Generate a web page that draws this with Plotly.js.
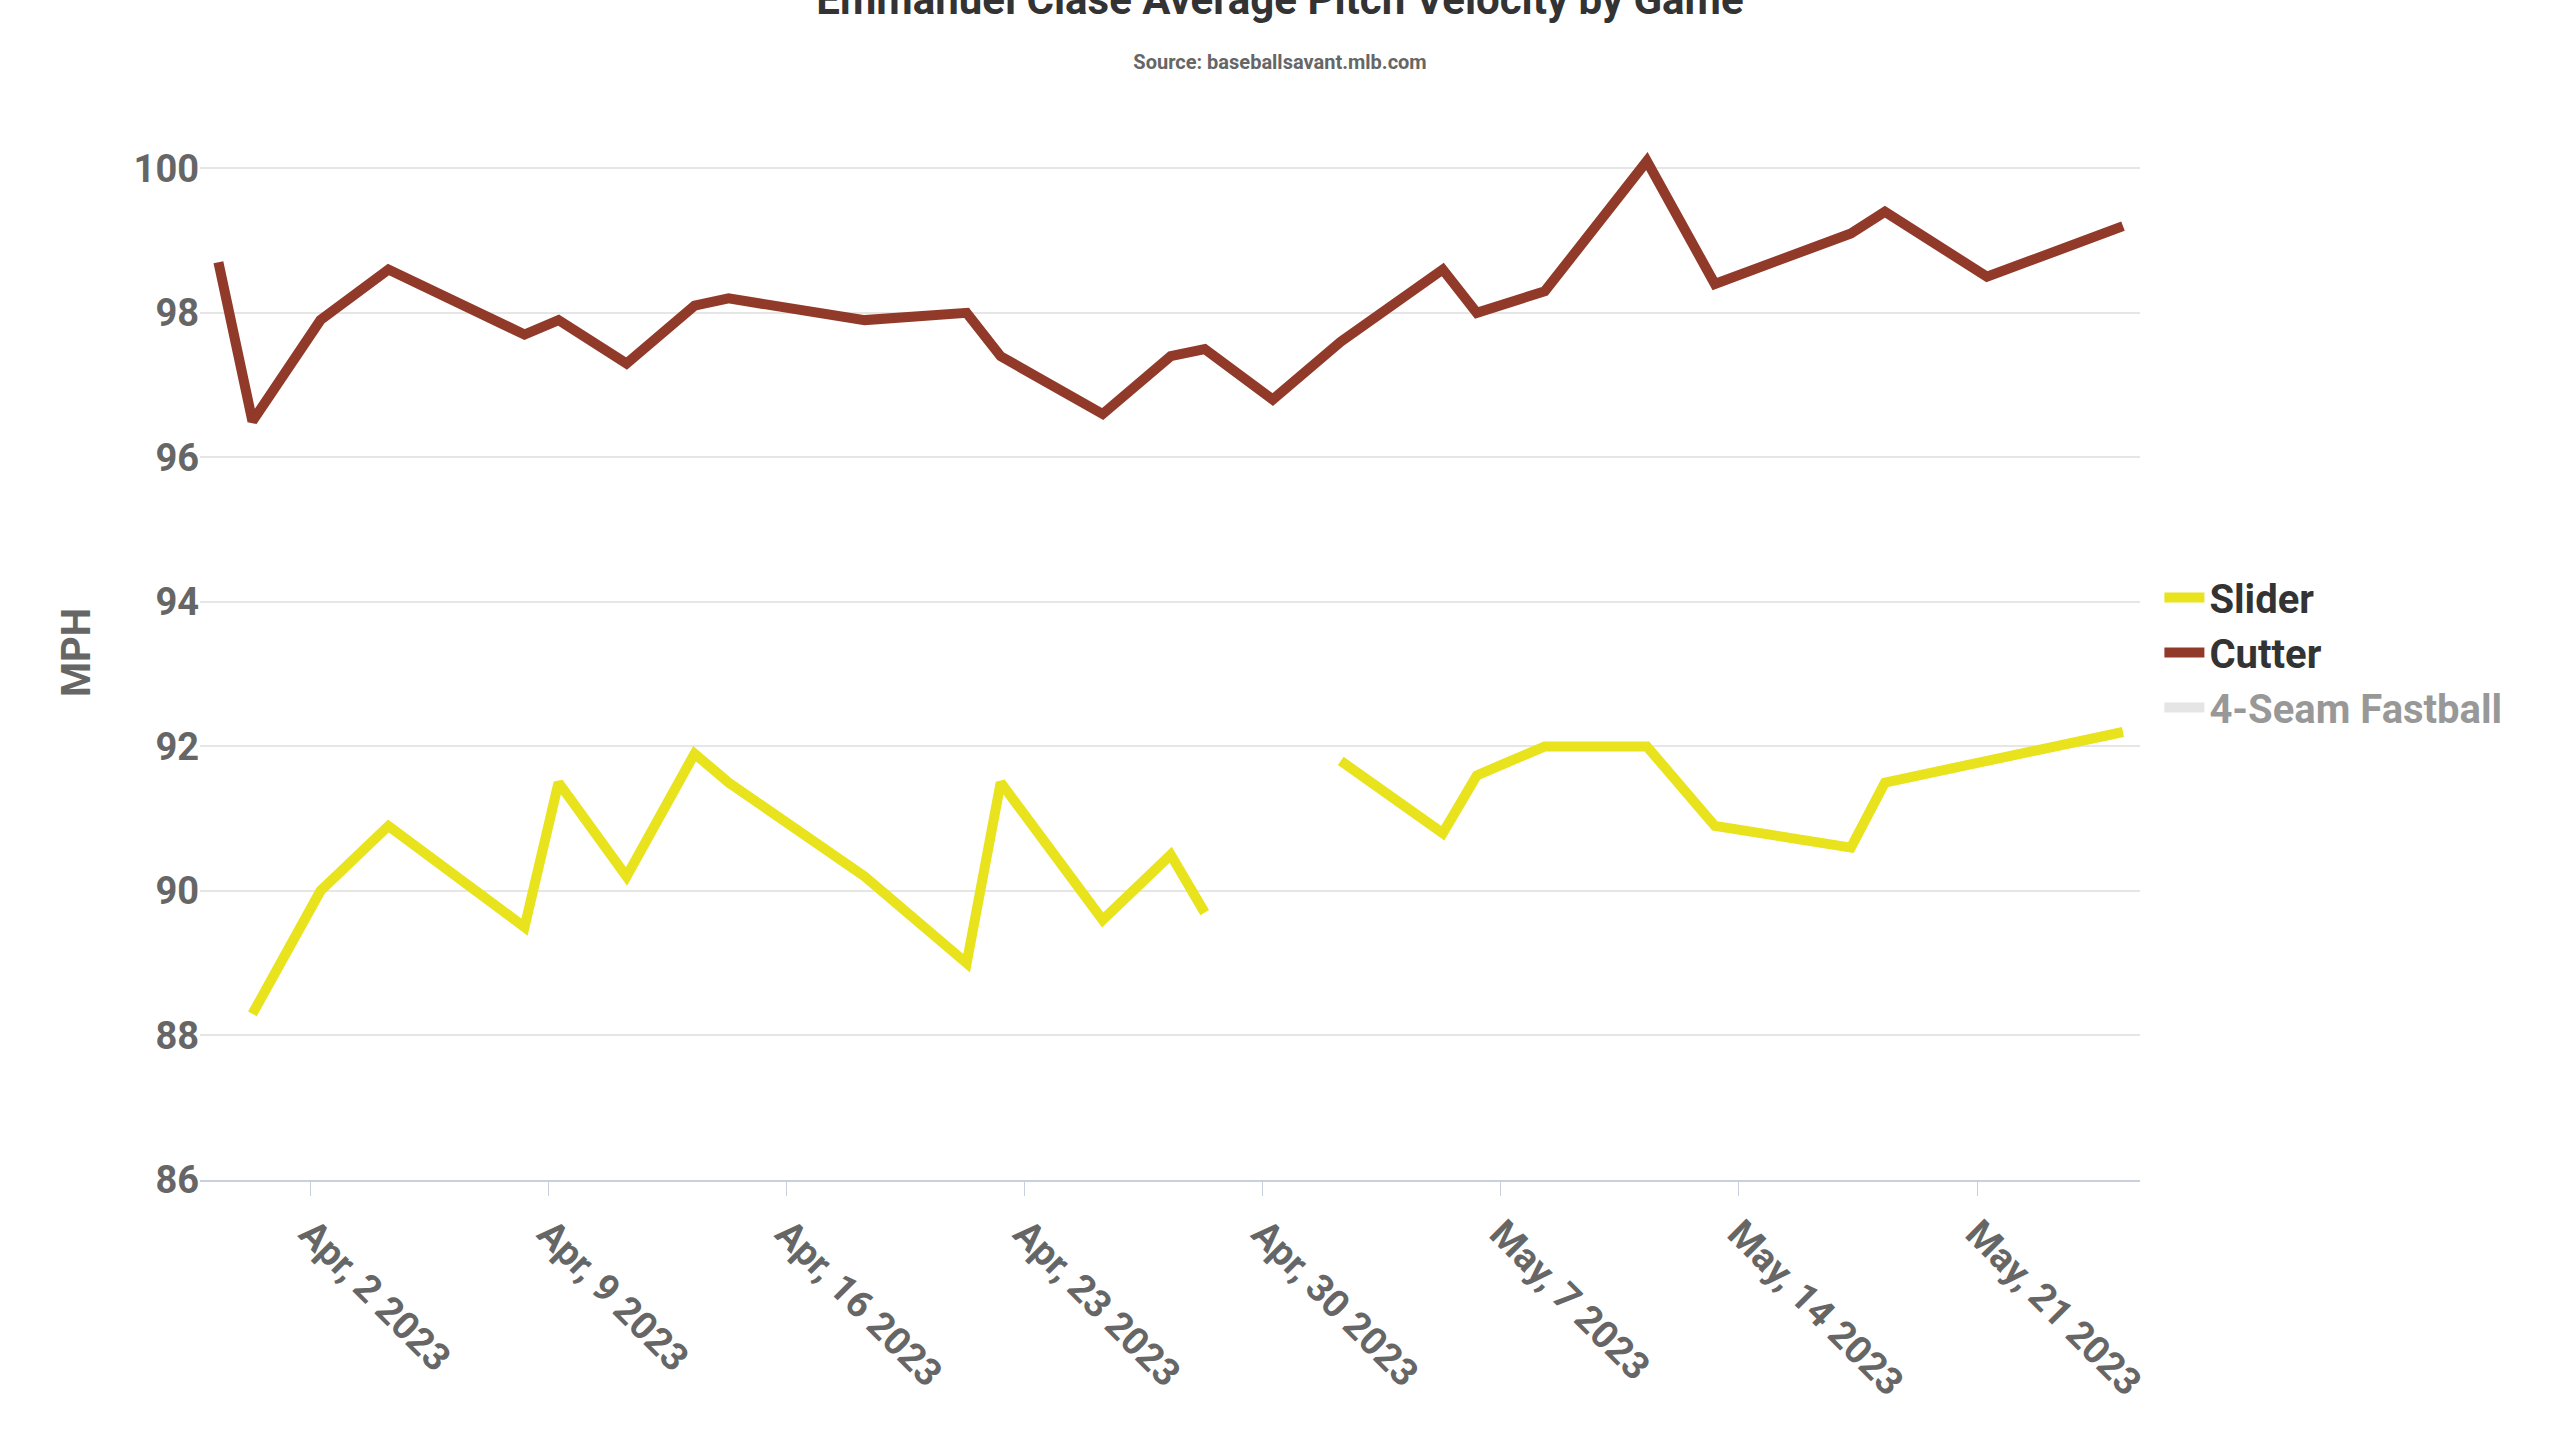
<!DOCTYPE html>
<html><head><meta charset="utf-8">
<script src="https://cdn.plot.ly/plotly-3.0.1.min.js"></script>
<style>body{margin:0}#c{width:2560px;height:1440px}</style></head>
<body><div id="c"></div>
<script>
const dates = ["03-30","03-31","04-02","04-04","04-08","04-09","04-11","04-13","04-14","04-18","04-21","04-22","04-25","04-27","04-28","04-30","05-02","05-05","05-06","05-08","05-11","05-13","05-17","05-18","05-21","05-25"].map(d=>"2023-"+d+" 07:00");
const cutter = [98.7,96.5,97.9,98.6,97.7,97.9,97.3,98.1,98.2,97.9,98.0,97.4,96.6,97.4,97.5,96.8,97.6,98.6,98.0,98.3,100.1,98.4,99.1,99.4,98.5,99.2];
const slider = [null,88.3,90.0,90.9,89.5,91.5,90.2,91.9,91.5,90.2,89.0,91.5,89.6,90.5,89.7,null,91.8,90.8,91.6,92.0,92.0,90.9,90.6,91.5,91.8,92.2];
const fastball = dates.map(()=>null);
const F = "Roboto, sans-serif";
Plotly.newPlot('c', [
 {x:dates,y:slider,name:'<b>Slider</b>',mode:'lines',line:{color:'#e8e31c',width:10},connectgaps:false},
 {x:dates,y:cutter,name:'<b>Cutter</b>',mode:'lines',line:{color:'#923a2a',width:10}},
 {x:dates,y:fastball,name:'<b>4-Seam Fastball</b>',mode:'lines',line:{color:'#cccccc',width:10},visible:'legendonly'}
],{
 width:2560,height:1440,paper_bgcolor:'#fff',plot_bgcolor:'#fff',
 margin:{l:200,r:420,t:125,b:260},
 font:{family:F,color:'#666'},
 title:{text:'<b>Emmanuel Clase Average Pitch Velocity by Game</b><br><span style="font-size:20px;color:#666"><b>Source: baseballsavant.mlb.com</b></span>',
   font:{size:42,color:'#333',family:F},x:0.5,xanchor:'center',y:0.99,yanchor:'top'},
 xaxis:{type:'date',range:['2023-03-29 18:00','2023-05-25 19:00'],tick0:'2023-04-02',dtick:7*86400000,
   tickformat:'<b>%b, %-d %Y</b>',tickangle:45,tickfont:{size:38,color:'#666',family:F},
   showgrid:false,ticks:'outside',ticklen:14,tickcolor:'#c8d0e0',showline:true,linecolor:'#c8d0e0',linewidth:2},
 yaxis:{range:[86,100.6],dtick:2,tick0:86,tickfont:{size:38,color:'#666',family:F},gridcolor:'#e6e6e6',gridwidth:2,zeroline:false,
   tickprefix:'<b>',ticksuffix:'</b>',
   title:{text:'<b>MPH</b>',font:{size:40,color:'#666',family:F},standoff:30}},
 legend:{x:1.01,y:0.5,yanchor:'middle',font:{size:40,color:'#333',family:F},itemwidth:40,tracegroupgap:0},
 showlegend:true
},{displayModeBar:false});
</script></body></html>
